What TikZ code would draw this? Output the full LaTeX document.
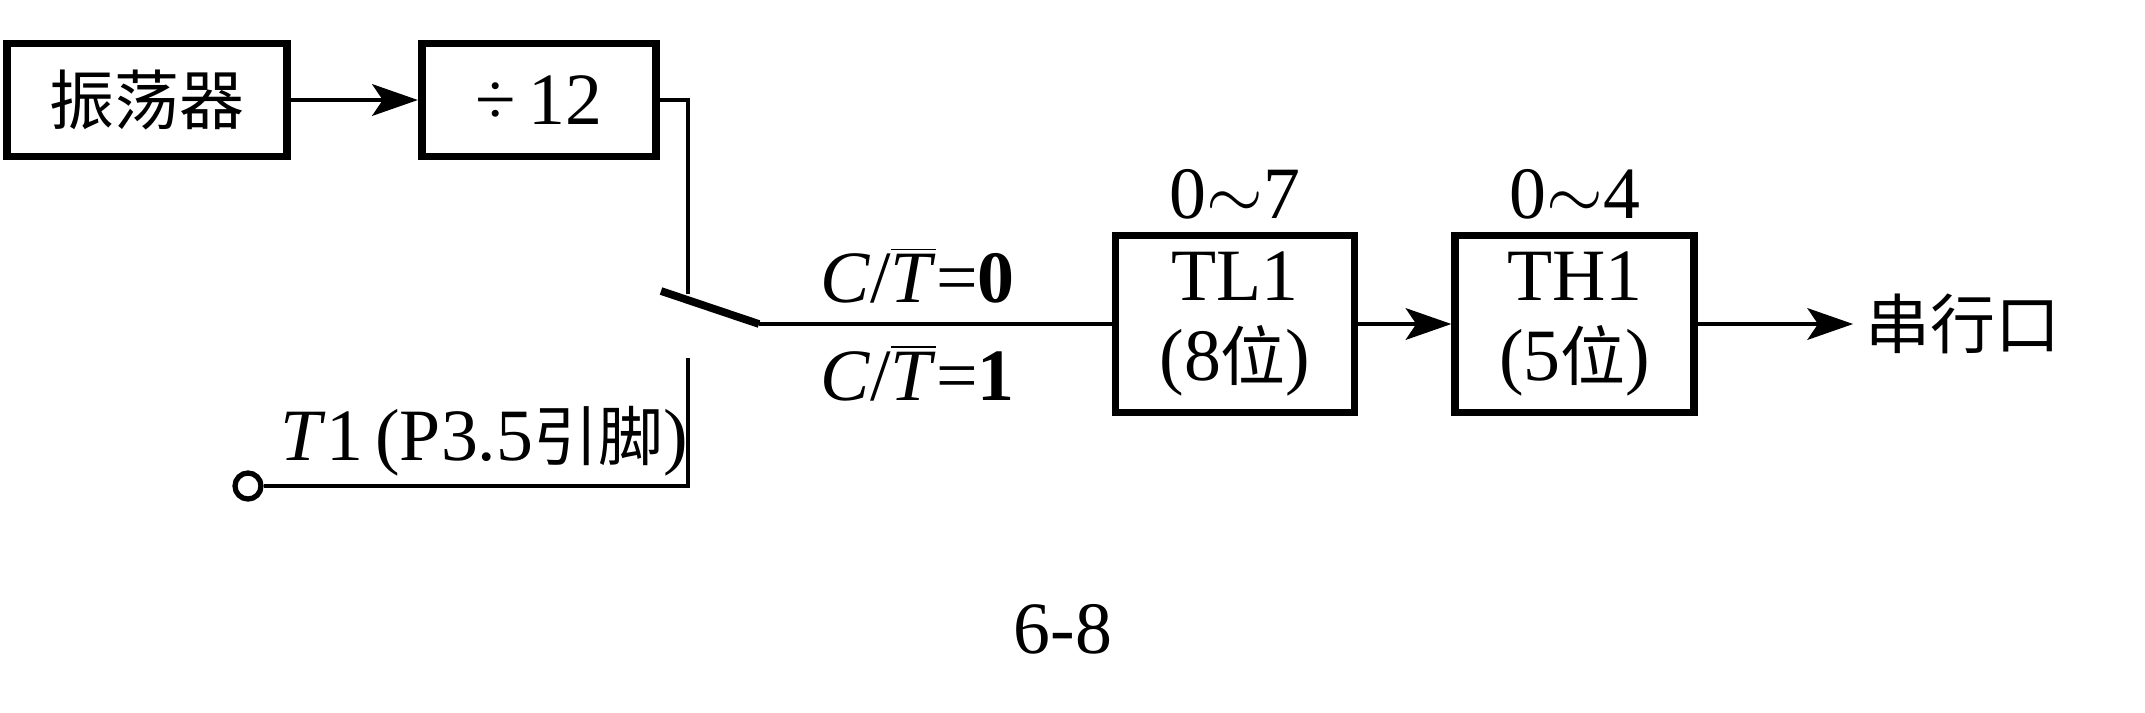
\documentclass[tikz,border=0pt]{standalone}
\usepackage{fontspec}
\setmainfont{Liberation Serif}
\newfontfamily\cjk{Noto Sans CJK SC}[Scale=0.88]
\usetikzlibrary{arrows.meta,positioning}

\begin{document}
\begin{tikzpicture}[
    font=\fontsize{21}{23}\selectfont,
    block/.style={draw=black, line width=2.2pt, rectangle, minimum width=2.8cm, minimum height=1.13cm, inner sep=0pt},
    reg/.style={draw=black, line width=2.2pt, rectangle, minimum width=2.39cm, minimum height=1.77cm, align=center, inner sep=0pt},
    wire/.style={line width=1.1pt},
    arrow/.style={-{Stealth[length=13pt,width=9pt,inset=3pt]}, line width=1.1pt}
]
  \useasboundingbox (0,0) rectangle (21.45,-7.12);

  % Nodes
  \node (osc) [block] at (1.47,-1.0) {\cjk 振荡器};
  \node (div) [block, minimum width=2.34cm, right=1.27cm of osc] {÷\,12};

  \node (tl) [reg] at (12.35,-3.24) {TL1\\(8{\cjk 位})};
  \node (th) [reg, right=0.93cm of tl] {TH1\\(5{\cjk 位})};
  \node (tlrange) [above=0pt of tl] {0$\sim$7};
  \node (thrange) [above=0pt of th] {0$\sim$4};
  \node (port) [right=1.55cm of th] {\cjk 串行口};

  \node (pin) [draw, circle, line width=1.5pt, minimum size=0.26cm, inner sep=0pt] at (2.48,-4.86) {};

  % Switch
  \coordinate (top) at (6.88,-2.94);
  \coordinate (bot) at (6.88,-3.58);
  \coordinate (blade) at (6.61,-2.91);
  \coordinate (pivot) at (7.59,-3.24);
  \coordinate (corner) at (6.88,-4.86);

  % Arrows
  \draw [arrow] (osc) -- (div);
  \draw [wire] (div.east) -| (top);
  \draw [line width=2.2pt] (blade) -- (pivot);
  \draw [wire] (pivot) -- node[pos=0.45, above=2pt] {\textit{C}/$\overline{\mbox{\textit{T}}}$=\textbf{0}}
                          node[pos=0.45, below=2pt] {\textit{C}/$\overline{\mbox{\textit{T}}}$=\textbf{1}} (tl.west);
  \draw [wire] (bot) -- (corner) -- node[pos=0.48, above=-1pt] {\textit{T}1\,(P3.5{\cjk 引脚})} (pin.east);
  \draw [arrow] (tl) -- (th);
  \draw [arrow] (th) -- (port);

  % Caption
  \node (caption) at (10.63,-6.29) {6-8};

\end{tikzpicture}
\end{document}
